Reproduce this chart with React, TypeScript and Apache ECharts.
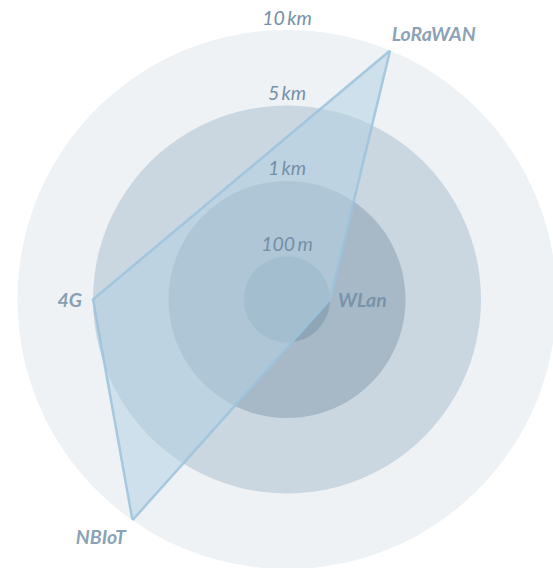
import React, { useEffect, useRef } from "react";
import * as echarts from "echarts";

// Technologies and their reach (ring level: 1 = 100 m, 2 = 1 km, 3 = 5 km, 4 = 10 km)
const techNames = ["WLan", "LoRaWAN", "4G", "NBIoT"];
const techRangeLevels = [1, 4, 3, 4];
const techAngles = [0, 67.5, 180, 235];

// Distance rings
const ringLevels = [4, 3, 2, 1];
const ringLabels = ["10\u2009km", "5\u2009km", "1\u2009km", "100\u2009m"];

// Styles
const ringColors = ["#eef2f5", "#cad6e0", "#a7b9c7", "#8fa6b7"];
const labelPlacement: Record<string, { position: [number, number]; align: string }> = {
  WLan: { position: [8.5, 0.5], align: "left" },
  LoRaWAN: { position: [2, -16.5], align: "left" },
  "4G": { position: [-10.5, 0.5], align: "right" },
  NBIoT: { position: [-6, 17], align: "right" },
};

export default function App() {
  const ref = useRef<HTMLDivElement>(null);
  useEffect(() => {
    document.body.style.margin = "0";
    if (!ref.current) return;
    const chart = echarts.init(ref.current, null, { renderer: "svg" });

    const polyData = techNames.map((n, i) => [techRangeLevels[i], techAngles[i]]);
    polyData.push([techRangeLevels[0], techAngles[0] + 360]);

    const option: any = {
      animation: false,
      polar: { center: [287, 299.5], radius: 269.5 },
      angleAxis: {
        type: "value",
        min: 0,
        max: 360,
        startAngle: 0,
        clockwise: false,
        show: false,
      },
      radiusAxis: { type: "value", min: 0.43, max: 4, show: false },
      series: [
        {
          type: "custom",
          coordinateSystem: "polar",
          z: 1,
          silent: true,
          data: ringLevels.map((v) => [v, 0]),
          renderItem: (params: any, api: any) => {
            const cs = params.coordSys;
            const p = api.coord([api.value(0), 0]);
            const r = Math.hypot(p[0] - cs.cx, p[1] - cs.cy);
            return {
              type: "circle",
              shape: { cx: cs.cx, cy: cs.cy, r },
              style: { fill: ringColors[params.dataIndex] },
            };
          },
        },
        {
          type: "line",
          coordinateSystem: "polar",
          z: 3,
          silent: true,
          symbol: "none",
          data: polyData,
          lineStyle: { color: "rgba(155,195,220,0.85)", width: 2.5, join: "miter" },
          areaStyle: { color: "rgba(181,209,225,0.55)", opacity: 1 },
        },
        {
          type: "custom",
          coordinateSystem: "polar",
          z: 5,
          silent: true,
          data: ringLevels.map((v) => [v, 0]),
          renderItem: (params: any, api: any) => {
            const cs = params.coordSys;
            const p = api.coord([api.value(0), 0]);
            const r = Math.hypot(p[0] - cs.cx, p[1] - cs.cy);
            return {
              type: "text",
              x: cs.cx,
              y: cs.cy - r - 13,
              style: {
                text: ringLabels[params.dataIndex],
                fill: "#7590a7",
                fontFamily: "Lato",
                fontStyle: "italic",
                fontSize: 19.5,
                align: "center",
                verticalAlign: "middle",
              },
            };
          },
        },
        {
          type: "scatter",
          coordinateSystem: "polar",
          z: 6,
          silent: true,
          symbolSize: 1,
          itemStyle: { color: "rgba(0,0,0,0)" },
          data: techNames.map((n, i) => ({
            name: n,
            value: [techRangeLevels[i], techAngles[i]],
            label: {
              position: labelPlacement[n].position,
              align: labelPlacement[n].align,
              verticalAlign: "middle",
            },
          })),
          label: {
            show: true,
            formatter: "{b}",
            fontFamily: "Lato",
            fontStyle: "italic",
            fontWeight: "bold",
            fontSize: 19.5,
            color: "#6b89a2",
          },
        },
      ],
    };
    chart.setOption(option);
    return () => chart.dispose();
  }, []);
  return <div ref={ref} style={{ width: 553, height: 568 }} />;
}
